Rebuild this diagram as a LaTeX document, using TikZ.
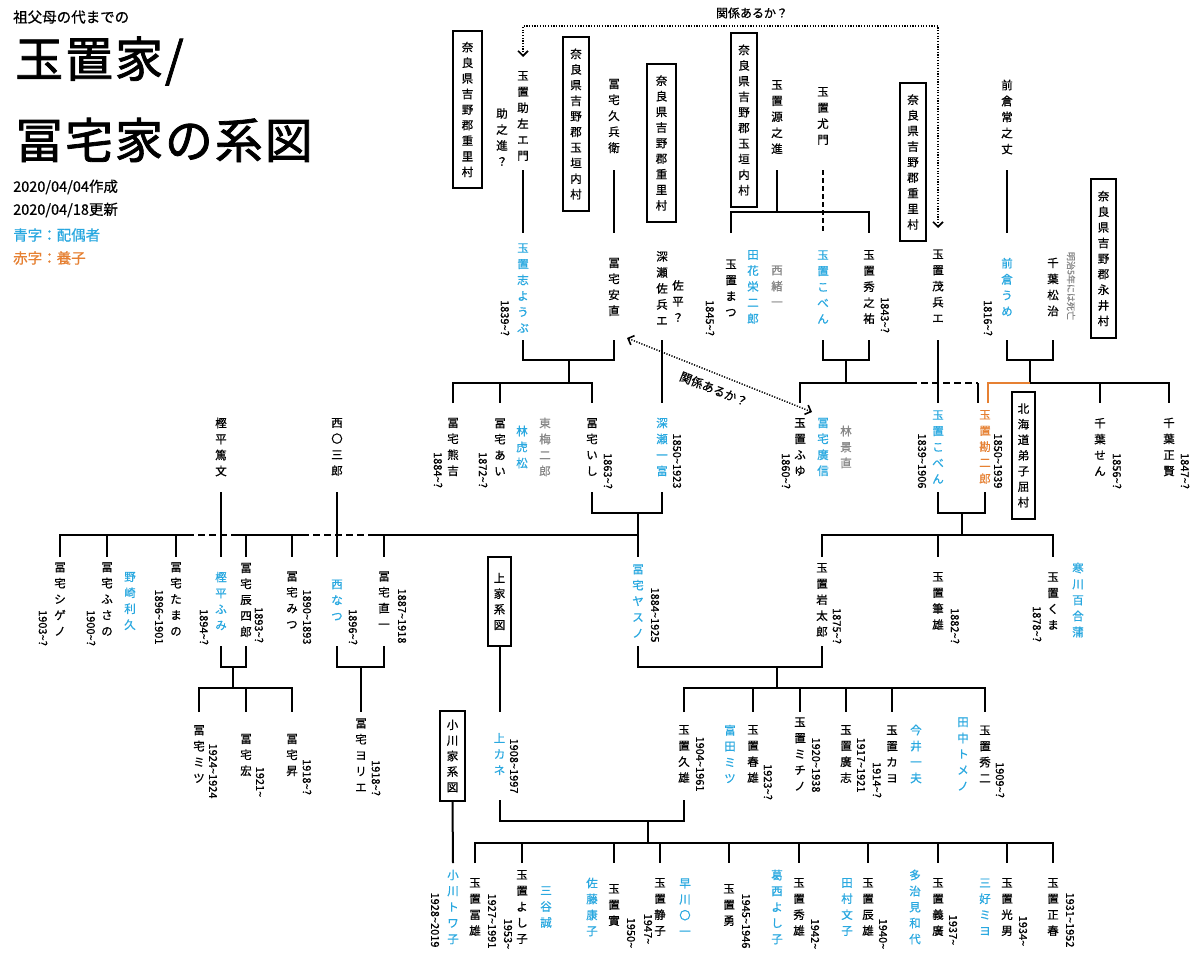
\documentclass[tikz,border=0pt]{standalone}
\usepackage{fontspec}
\usetikzlibrary{arrows.meta,calc}
\newfontfamily\jp{Noto Sans CJK JP}[FakeBold=0.7]
\newfontfamily\jpt{Noto Sans CJK JP}[FakeBold=1.6, LetterSpace=4]
\definecolor{cblue}{RGB}{41,168,224}
\definecolor{corange}{RGB}{230,128,50}
\definecolor{cgrey}{RGB}{135,135,135}
\newcommand{\tld}{\textasciitilde}
\makeatletter
\def\vt#1{\vt@a#1\relax}
\def\vt@a#1#2{#1\ifx\relax#2\expandafter\@gobble\else\expandafter\vt@b\fi{#2}}
\def\vt@b#1{\\\vt@a#1}
\makeatother
\tikzset{
  pn/.style={align=center, font=\fontsize{11.5}{16}\selectfont\jp, inner sep=0pt},
  pb/.style={pn},
  pbl/.style={pn, text=cblue},
  pgr/.style={pn, text=cgrey},
  por/.style={pn, text=corange},
  dt/.style={rotate=-90, font=\fontsize{11}{12}\selectfont\jp, inner sep=0pt},
  place/.style={draw, line width=1.3pt, align=center, font=\fontsize{11.5}{15.6}\selectfont\jp, inner sep=0pt},
  fam/.style={place, line width=2.2pt, minimum width=23pt},
  ln/.style={line width=2pt},
  dln/.style={ln, dash pattern=on 7pt off 4pt},
  dvl/.style={ln, dash pattern=on 5pt off 3pt},
  oln/.style={ln, draw=corange},
  rel/.style={line width=1.4pt, dash pattern=on 1.2pt off 1.5pt,
    {Straight Barb[length=5pt,width=10pt,line width=1.6pt]}-{Straight Barb[length=5pt,width=10pt,line width=1.6pt]}},
  hdr/.style={anchor=west, inner sep=0pt, font=\fontsize{14.5}{16}\selectfont\jp},
}
\begin{document}
\begin{tikzpicture}[x=1pt,y=-1pt]
\useasboundingbox (0,0) rectangle (1200,958);
\fill[white] (0,0) rectangle (1200,958);

% header
\node[hdr] (sub) at (13,17) {祖父母の代までの};
\node[hdr, font=\fontsize{48}{50}\selectfont\jpt] (t1) at (15,61) {玉置家/};
\node[hdr, font=\fontsize{48}{50}\selectfont\jpt] (t2) at (15,140) {冨宅家の系図};
\node[hdr] (made) at (13,187) {2020/04/04作成};
\node[hdr] (upd) at (13,210) {2020/04/18更新};
\node[hdr, text=cblue] (lg1) at (13,235) {青字：配偶者};
\node[hdr, text=corange] (lg2) at (13,258) {赤字：養子};

% level coordinates
\coordinate (La) at (0,26);
\coordinate (Ltl) at (0,57);
\coordinate (Ltr) at (0,228);
\coordinate (L1b) at (0,170);
\coordinate (L1bar) at (0,212);
\coordinate (L2t) at (0,233);
\coordinate (L2b) at (0,340);
\coordinate (L2k) at (0,360);
\coordinate (L3bar) at (0,383);
\coordinate (L3t) at (0,403);
\coordinate (L3b) at (0,492);
\coordinate (L3k) at (0,513);
\coordinate (L4bar) at (0,535);
\coordinate (L4t) at (0,557);
\coordinate (L4b) at (0,646);
\coordinate (L4k) at (0,667);
\coordinate (L5bar) at (0,688);
\coordinate (L5t) at (0,712);
\coordinate (L5b) at (0,800);
\coordinate (L5k) at (0,821);
\coordinate (L6bar) at (0,843);
\coordinate (L6t) at (0,863);
% junction x
\coordinate (j1) at (569,0);
\coordinate (j2) at (846,0);
\coordinate (j3) at (1030,0);
\coordinate (j4) at (638,0);
\coordinate (j5) at (962,0);
\coordinate (j6) at (233,0);
\coordinate (j7) at (361,0);
\coordinate (j8) at (777,0);
\coordinate (j9) at (648,0);
\coordinate (kd1) at (910,0);
\coordinate (kd) at (978,0);
\coordinate (ko) at (988,0);
\coordinate (d1) at (187,0);
\coordinate (d2) at (233,0);
\coordinate (d3) at (302,0);
\coordinate (d4) at (373,0);

% place boxes
\node[place, minimum width=29pt, minimum height=157pt] (b1) at (467.5,109.5) {\vt{奈良県吉野郡重里村}};
\node[place, minimum width=26pt, minimum height=174pt] (b2) at (576,124) {\vt{奈良県吉野郡玉垣内村}};
\node[place, minimum width=29pt, minimum height=158pt] (b3) at (661.5,143) {\vt{奈良県吉野郡重里村}};
\node[place, minimum width=26pt, minimum height=174pt] (b4) at (744,120) {\vt{奈良県吉野郡玉垣内村}};
\node[place, minimum width=26pt, minimum height=158pt] (b5) at (913,162) {\vt{奈良県吉野郡重里村}};
\node[place, minimum width=25pt, minimum height=159pt] (b6) at (1103.5,258.5) {\vt{奈良県吉野郡永井村}};
\node[place, minimum width=23pt, minimum height=127pt] (b7) at (1023.5,455.5) {\vt{北海道弟子屈村}};

% row 1
\node[pb] (suke) at (523,116) {\vt{玉置助左エ門}};
\node[pb] (sukenoshin) at (502,137) {\vt{助之進？}};
\node[pb] (kyube) at (614,116) {\vt{冨宅久兵衛}};
\node[pb] (gen) at (777,117) {\vt{玉置源之進}};
\node[pb] (yumon) at (823,116) {\vt{玉置尤門}};
\node[pb] (jou) at (1007,117) {\vt{前倉常之丈}};

% row 2
\node[pbl] (shiyoubu) at (523,288) {\vt{玉置志ようぶ}};
\node[dt] at (505,318) {1839\tld?};
\node[pb] (yasunao) at (614,287) {\vt{冨宅安直}};
\node[pb] (fukase) at (662,288) {\vt{深瀬佐兵エ}};
\node[pb] (sahei) at (678,301) {\vt{佐平？}};
\node[dt] at (710,318) {1845\tld?};
\node[pb] (matsu) at (731,288) {\vt{玉置まつ}};
\node[pbl] (eijiro) at (753,287) {\vt{田花栄二郎}};
\node[pgr] (nishio) at (777,286) {\vt{西緒一}};
\node[pbl] (koben1) at (823,287) {\vt{玉置こべん}};
\node[pb] (hide) at (869,287) {\vt{玉置秀之祐}};
\node[dt] at (885,315) {1843\tld?};
\node[pb] (mohe) at (938,286) {\vt{玉置茂兵エ}};
\node[pbl] (ume) at (1007,287) {\vt{前倉うめ}};
\node[dt] at (988,318) {1816\tld?};
\node[pb] (matsuji) at (1053,287) {\vt{千葉松治}};
\node[dt, text=cgrey, font=\fontsize{9}{10}\selectfont\jp] (meiji) at (1071,286) {明治5年には死亡};

% row 3
\node[pb] (atsufumi) at (221,447) {\vt{樫平篤文}};
\node[pb] (nishi) at (337,447) {\vt{西〇三郎}};
\node[pb] (kumakichi) at (453,447) {\vt{冨宅熊吉}};
\node[dt] at (438,470) {1884\tld?};
\node[pb] (ai) at (500,447) {\vt{冨宅あい}};
\node[dt] at (483,470) {1872\tld?};
\node[pbl] (toramatsu) at (522,447) {\vt{林虎松}};
\node[pgr] (umejiro) at (545,447) {\vt{東梅二郎}};
\node[pb] (ishi) at (592,447) {\vt{冨宅いし}};
\node[dt] at (608,471) {1863\tld?};
\node[pbl] (kazutomi) at (662,447) {\vt{深瀬一富}};
\node[dt] at (677,461) {1850\tld1923};
\node[pb] (fuyu) at (800,447) {\vt{玉置ふゆ}};
\node[dt] at (786,471) {1860\tld?};
\node[pbl] (hironobu) at (823,447) {\vt{冨宅廣信}};
\node[pgr] (kagenao) at (846,447) {\vt{林景直}};
\node[pbl] (koben2) at (938,447) {\vt{玉置こべん}};
\node[dt] at (922,461) {1839\tld1906};
\node[por] (kanjiro) at (985,447) {\vt{玉置勘二郎}};
\node[dt] at (998,461) {1850\tld1939};
\node[pb] (sen) at (1100,447) {\vt{千葉せん}};
\node[dt] at (1117,471) {1856\tld?};
\node[pb] (seiken) at (1169,447) {\vt{千葉正賢}};
\node[dt] at (1185,471) {1847\tld?};

% row 4
\node[pb] (shigeno) at (60,599) {\vt{冨宅シゲノ}};
\node[dt] at (43,628) {1903\tld?};
\node[pb] (fusano) at (107,599) {\vt{冨宅ふさの}};
\node[dt] at (91,628) {1900\tld?};
\node[pbl] (rikyu) at (130,601) {\vt{野崎利久}};
\node[pb] (tamano) at (176,599) {\vt{冨宅たまの}};
\node[dt] at (159,617) {1896\tld1901};
\node[pbl] (fumi) at (221,601) {\vt{樫平ふみ}};
\node[dt] at (204,627) {1894\tld?};
\node[pb] (tatsushiro) at (246,600) {\vt{冨宅辰四郎}};
\node[dt] at (259,625) {1893\tld?};
\node[pb] (mitsu) at (292,600) {\vt{冨宅みつ}};
\node[dt] at (307,617) {1890\tld1893};
\node[pbl] (natsu) at (337,600) {\vt{西なつ}};
\node[dt] at (353,627) {1896\tld?};
\node[pb] (naokazu) at (384,600) {\vt{冨宅直一}};
\node[dt] at (402,616) {1887\tld1918};
\node[fam, minimum height=89pt] (kamike) at (499.5,601.5) {\vt{上家系図}};
\node[pbl] (yasuno) at (638,601) {\vt{冨宅ヤスノ}};
\node[dt] at (655,615) {1884\tld1925};
\node[pb] (iwataro) at (822,600) {\vt{玉置岩太郎}};
\node[dt] at (837,626) {1875\tld?};
\node[pb] (fudeo) at (938,601) {\vt{玉置筆雄}};
\node[dt] at (955,626) {1882\tld?};
\node[pb] (kuma) at (1053,601) {\vt{玉置くま}};
\node[dt] at (1037,624) {1878\tld?};
\node[pbl] (yurikama) at (1078,600) {\vt{寒川百合蒲}};

% row 5
\node[pb] (mitsu2) at (199,754) {\vt{冨宅ミツ}};
\node[dt] at (213,771) {1924\tld1924};
\node[pb] (hiroshi2) at (246,755) {\vt{冨宅宏}};
\node[dt] at (260,782) {1921\tld};
\node[pb] (noboru) at (292,755) {\vt{冨宅昇}};
\node[dt] at (307,777) {1918\tld?};
\node[pb] (yorie) at (361,755) {\vt{冨宅ヨリエ}};
\node[dt] at (376,778) {1918\tld?};
\node[fam, minimum height=90pt, minimum width=25pt] (ogawa) at (452.5,756) {\vt{小川家系図}};
\node[pbl] (kane) at (499.5,754) {\vt{上カネ}};
\node[dt] at (514,766) {1908\tld1997};
\node[pb] (hisao) at (684,754) {\vt{玉置久雄}};
\node[dt] at (700,764) {1904\tld1961};
\node[pbl] (tomitamitsu) at (730,754) {\vt{富田ミツ}};
\node[pb] (haruo) at (753,754) {\vt{玉置春雄}};
\node[dt] at (768,782) {1923\tld?};
\node[pb] (michino) at (800,754) {\vt{玉置ミチノ}};
\node[dt] at (816,765) {1920\tld1938};
\node[pb] (hiroshi) at (846,754) {\vt{玉置廣志}};
\node[dt] at (861,765) {1917\tld1921};
\node[dt] at (877,780) {1914\tld?};
\node[pb] (kayo) at (892,754) {\vt{玉置カヨ}};
\node[pbl] (kazuo) at (916,754) {\vt{今井一夫}};
\node[pbl] (tomeno) at (963,754) {\vt{田中トメノ}};
\node[pb] (shuji) at (985,754) {\vt{玉置秀二}};
\node[dt] at (1000,780) {1909\tld?};

% row 6
\node[pbl] (towako) at (453,907) {\vt{小川トワ子}};
\node[dt] at (435,920) {1928\tld2019};
\node[pb] (tomio) at (475,907) {\vt{玉置冨雄}};
\node[dt] at (492,921) {1927\tld1991};
\node[pb] (yoshiko) at (522,907) {\vt{玉置よし子}};
\node[dt] at (508,934) {1953\tld};
\node[pbl] (makoto) at (546,907) {\vt{三谷誠}};
\node[pbl] (yasuko) at (592,907) {\vt{佐藤康子}};
\node[pb] (minoru) at (614,905) {\vt{玉置實}};
\node[dt] at (631,933) {1950\tld};
\node[pb] (shizuko) at (660,907) {\vt{玉置静子}};
\node[dt] at (648,929) {1947\tld};
\node[pbl] (hayakawa) at (685,907) {\vt{早川〇一}};
\node[pb] (isamu) at (729,905) {\vt{玉置勇}};
\node[dt] at (746,921) {1945\tld1946};
\node[pbl] (kasai) at (777,907) {\vt{葛西よし子}};
\node[pb] (hideo) at (799,907) {\vt{玉置秀雄}};
\node[dt] at (815,934) {1942\tld};
\node[pbl] (tamura) at (847,907) {\vt{田村文子}};
\node[pb] (tatsuo) at (868,907) {\vt{玉置辰雄}};
\node[dt] at (883,934) {1940\tld};
\node[pbl] (tajimi) at (915,907) {\vt{多治見和代}};
\node[pb] (yoshihiro) at (938,907) {\vt{玉置義廣}};
\node[dt] at (953,930) {1937\tld};
\node[pbl] (miyoshi) at (985,907) {\vt{三好ミヨ}};
\node[pb] (mitsuo) at (1007,907) {\vt{玉置光男}};
\node[dt] at (1023,931) {1934\tld};
\node[pb] (masaharu) at (1053,907) {\vt{玉置正春}};
\node[dt] at (1070,920) {1931\tld1952};

% ---- connectors ----
% row1 -> row2
\draw[ln] (suke |- L1b) -- (shiyoubu |- L2t);
\draw[ln] (kyube |- L1b) -- (yasunao |- L2t);
\draw[ln] (gen |- L1b) -- (gen |- L1bar);
\draw[ln] (matsu |- L2t) -- (matsu |- L1bar) -- (hide |- L1bar) -- (hide |- L2t);
\draw[dvl] (yumon |- L1b) -- (koben1 |- L2t);
\draw[ln] (jou |- L1b) -- (ume |- L2t);

% 志ようぶ / 安直
\draw[ln] (shiyoubu |- L2b) -- (shiyoubu |- L2k) -- (yasunao |- L2k) -- (yasunao |- L2b);
\draw[ln] (j1 |- L2k) -- (j1 |- L3bar);
\draw[ln] (kumakichi |- L3t) -- (kumakichi |- L3bar) -- (ishi |- L3bar) -- (ishi |- L3t);
\draw[ln] (ai |- L3bar) -- (ai |- L3t);
\draw[ln] (fukase |- L2b) -- (kazutomi |- L3t);

% こべん / 秀之祐
\draw[ln] (koben1 |- L2b) -- (koben1 |- L2k) -- (hide |- L2k) -- (hide |- L2b);
\draw[ln] (j2 |- L2k) -- (j2 |- L3bar);
\draw[ln] (fuyu |- L3t) -- (fuyu |- L3bar) -- (kd1 |- L3bar);
\draw[dln] (kd1 |- L3bar) -- (kd |- L3bar);
\draw[ln] (kd |- L3bar) -- (kd |- L3t);
\draw[ln] (mohe |- L2b) -- (koben2 |- L3t);

% うめ / 松治
\draw[ln] (ume |- L2b) -- (ume |- L2k) -- (matsuji |- L2k) -- (matsuji |- L2b);
\draw[ln] (j3 |- L2k) -- (j3 |- L3bar) -- (seiken |- L3bar) -- (seiken |- L3t);
\draw[ln] (sen |- L3bar) -- (sen |- L3t);
\draw[oln] (ko |- L3t) -- (ko |- L3bar) -- (j3 |- L3bar);

% いし / 一富
\draw[ln] (ishi |- L3b) -- (ishi |- L3k) -- (kazutomi |- L3k) -- (kazutomi |- L3b);
\draw[ln] (j4 |- L3k) -- (yasuno |- L4t);
\draw[ln] (shigeno |- L4t) -- (shigeno |- L4bar) -- (d1 |- L4bar);
\draw[dln] (d1 |- L4bar) -- (d2 |- L4bar);
\draw[ln] (d2 |- L4bar) -- (d3 |- L4bar);
\draw[dln] (d3 |- L4bar) -- (d4 |- L4bar);
\draw[ln] (d4 |- L4bar) -- (j4 |- L4bar);
\foreach \c in {fusano,tamano,tatsushiro,mitsu,naokazu}
  \draw[ln] (\c |- L4bar) -- (\c |- L4t);
\draw[ln] (atsufumi |- L3b) -- (fumi |- L4t);
\draw[ln] (nishi |- L3b) -- (natsu |- L4t);

% こべん / 勘二郎
\draw[ln] (koben2 |- L3b) -- (koben2 |- L3k) -- (kanjiro |- L3k) -- (kanjiro |- L3b);
\draw[ln] (j5 |- L3k) -- (j5 |- L4bar);
\draw[ln] (iwataro |- L4t) -- (iwataro |- L4bar) -- (kuma |- L4bar) -- (kuma |- L4t);
\draw[ln] (fudeo |- L4bar) -- (fudeo |- L4t);

% ヤスノ / 岩太郎
\draw[ln] (yasuno |- L4b) -- (yasuno |- L4k) -- (iwataro |- L4k) -- (iwataro |- L4b);
\draw[ln] (j8 |- L4k) -- (j8 |- L5bar);
\draw[ln] (hisao |- L5t) -- (hisao |- L5bar) -- (shuji |- L5bar) -- (shuji |- L5t);
\foreach \c in {haruo,michino,hiroshi,kayo}
  \draw[ln] (\c |- L5bar) -- (\c |- L5t);

% ふみ / 辰四郎
\draw[ln] (fumi |- L4b) -- (fumi |- L4k) -- (tatsushiro |- L4k) -- (tatsushiro |- L4b);
\draw[ln] (j6 |- L4k) -- (j6 |- L5bar);
\draw[ln] (mitsu2 |- L5t) -- (mitsu2 |- L5bar) -- (noboru |- L5bar) -- (noboru |- L5t);
\draw[ln] (hiroshi2 |- L5bar) -- (hiroshi2 |- L5t);

% なつ / 直一
\draw[ln] (natsu |- L4b) -- (natsu |- L4k) -- (naokazu |- L4k) -- (naokazu |- L4b);
\draw[ln] (j7 |- L4k) -- (yorie |- L5t);

% 上家系図
\draw[ln] (kamike.south) -- (kane |- L5t);

% カネ / 久雄
\draw[ln] (kane |- L5b) -- (kane |- L5k) -- (hisao |- L5k) -- (hisao |- L5b);
\draw[ln] (j9 |- L5k) -- (j9 |- L6bar);
\draw[ln] (tomio |- L6t) -- (tomio |- L6bar) -- (masaharu |- L6bar) -- (masaharu |- L6t);
\foreach \c in {yoshiko,minoru,shizuko,isamu,hideo,tatsuo,yoshihiro,mitsuo}
  \draw[ln] (\c |- L6bar) -- (\c |- L6t);

% 小川家系図
\draw[ln] (ogawa.south) -- (towako |- L6t);

% relation arrows
\draw[rel] (suke |- Ltl) -- (suke |- La) -- (mohe |- La) -- (mohe |- Ltr);
\node[inner sep=0pt, font=\fontsize{12}{14}\selectfont\jp] (q1) at (752,13) {関係あるか？};
\coordinate (ya) at (627,338);
\coordinate (hb) at (812,412);
\draw[rel] (ya) -- (hb) node[midway, sloped, below=9pt, inner sep=0pt, font=\fontsize{12}{14}\selectfont\jp] (q2) {関係あるか？};

\end{tikzpicture}
\end{document}
